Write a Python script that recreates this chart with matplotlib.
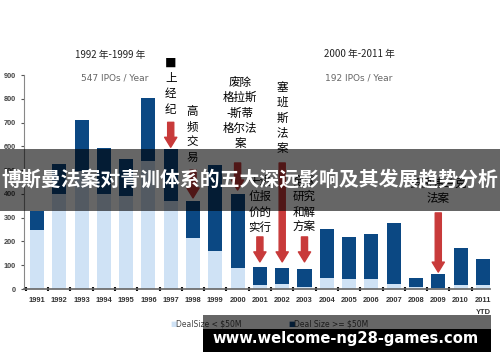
import matplotlib
matplotlib.use("Agg")
import matplotlib.pyplot as plt
from matplotlib.patches import Rectangle

plt.rcParams['font.family'] = ['Noto Sans CJK SC', 'DejaVu Sans']

years = ['1991', '1992', '1993', '1994', '1995', '1996', '1997', '1998', '1999', '2000',
         '2001', '2002', '2003', '2004', '2005', '2006', '2007', '2008', '2009', '2010', '2011']
small_deals = [250, 400, 495, 400, 390, 540, 370, 213, 160, 88,
               16, 21, 10, 48, 41, 41, 21, 7, 3, 16, 16]
large_deals = [80, 125, 217, 193, 155, 263, 217, 158, 361, 312,
               75, 67, 73, 203, 176, 190, 258, 41, 60, 155, 109]
yticks = [0, 100, 200, 300, 400, 500, 600, 700, 800, 900]
period_titles = ['1992 年-1999 年', '2000 年-2011 年']
period_subtitles = ['547 IPOs / Year', '192 IPOs / Year']
legend_labels = ['DealSize < $50M', 'Deal Size >= $50M']
banner_title = '博斯曼法案对青训体系的五大深远影响及其发展趋势分析'
watermark = 'www.welcome-ng28-games.com'

# annotations: (text, x index, text top value, arrow tail value, arrow tip value, arrow x index)
annotations = [
    ('■\n上\n经\n纪', 6.0, 976, 701, 596, 6),
    ('高\n频\n交\n易', 6.95, 774, 500, 383, 7),
    ('废除\n格拉斯\n-斯蒂\n格尔法\n案', 9.1, 896, 530, 416, 9),
    ('塞\n班\n斯\n法\n案', 11.0, 875, 530, 114, 11),
    ('十进\n位报\n价的\n实行', 10.0, 479, 219, 114, 10),
    ('全球\n研究\n和解\n方案', 12.0, 479, 219, 114, 12),
    ('多德弗兰克\n法案', 18.0, 471, 320, 71, 18),
]

light_c = '#cfe2f5'
dark_c = '#0b4883'
arrow_c = '#c83a3a'
tick_font = 'Liberation Sans'

fig = plt.figure(figsize=(5.0, 3.62), dpi=100)
ax = fig.add_axes([0.048, (362 - 289) / 362, (490 - 24) / 500, (289 - 75) / 362])

x = list(range(len(years)))
ax.bar(x, small_deals, width=0.63, color=light_c, zorder=2)
ax.bar(x, large_deals, bottom=small_deals, width=0.63, color=dark_c, zorder=2)

ax.set_xlim(-0.58, 20.32)
ax.set_ylim(0, 900)
ax.set_yticks(yticks)
ax.set_yticklabels([str(v) for v in yticks], fontsize=5.3, color='#444444',
                   fontweight='bold', family=tick_font)
ax.set_xticks(x)
xt = list(years)
xt[-1] = '2011\nYTD'
ax.set_xticklabels(xt, fontsize=5.4, color='#333333', fontweight='bold',
                   family=tick_font, linespacing=2.0, va='top')
ax.tick_params(axis='x', length=0, pad=6)
ax.set_xticks([i + 0.5 for i in x[:-1]] + [-0.5], minor=True)
ax.tick_params(axis='x', which='minor', length=2.5, width=1.5, direction='inout', color='#111111')
ax.tick_params(axis='y', length=2, width=0.8, color='#555555', pad=4)
for s in ['top', 'right']:
    ax.spines[s].set_visible(False)
ax.spines['left'].set_color('#888888')
ax.spines['left'].set_linewidth(0.8)
ax.spines['bottom'].set_color('#666666')
ax.spines['bottom'].set_linewidth(1.2)

# period headers
fig.text(110 / 500, 1 - 55 / 362, period_titles[0], ha='center', va='center', fontsize=7, color='#222222')
fig.text(115 / 500, 1 - 78 / 362, period_subtitles[0], ha='center', va='center', fontsize=6.5,
         color='#666666', family='DejaVu Sans')
fig.text(359 / 500, 1 - 54 / 362, period_titles[1], ha='center', va='center', fontsize=7, color='#222222')
fig.text(359 / 500, 1 - 78 / 362, period_subtitles[1], ha='center', va='center', fontsize=6.5,
         color='#666666', family='DejaVu Sans')

# annotations with arrows
for txt, tx, ty, a0, a1, ax_i in annotations:
    ax.text(tx, ty, txt, ha='center', va='top', fontsize=8.3, color='black',
            linespacing=1.22, clip_on=False, zorder=5, multialignment='center')
    ax.annotate('', xy=(ax_i, a1), xytext=(ax_i, a0),
                arrowprops=dict(arrowstyle='simple,head_length=0.9,head_width=1.1,tail_width=0.55',
                                mutation_scale=8, color=arrow_c, shrinkA=0, shrinkB=0),
                zorder=4, annotation_clip=False)

# legend
fig.text(170 / 500, 1 - 324 / 362, '■', color=light_c, fontsize=5, va='center', ha='left', family='DejaVu Sans')
fig.text(176 / 500, 1 - 324 / 362, legend_labels[0], color='#444444', fontsize=5.5, va='center', ha='left',
         family='DejaVu Sans')
fig.text(288 / 500, 1 - 324 / 362, '■', color=dark_c, fontsize=5, va='center', ha='left', family='DejaVu Sans')
fig.text(294 / 500, 1 - 324 / 362, legend_labels[1], color='#444444', fontsize=5.5, va='center', ha='left',
         family='DejaVu Sans')

# banner overlay
fig.add_artist(Rectangle((0, (362 - 211) / 362), 1, 62 / 362, transform=fig.transFigure,
                         facecolor='black', alpha=0.6, edgecolor='none', zorder=10))
fig.text(0.5, 1 - 180 / 362, banner_title, ha='center', va='center', fontsize=14.3,
         color='white', fontweight='bold', zorder=11)

# watermark box
fig.add_artist(Rectangle((203 / 500, (362 - 329) / 362), 288 / 500, 14 / 362, transform=fig.transFigure,
                         facecolor='black', alpha=0.6, edgecolor='none', zorder=10))
fig.add_artist(Rectangle((203 / 500, (362 - 352) / 362), 288 / 500, 23 / 362, transform=fig.transFigure,
                         facecolor='black', edgecolor='none', zorder=10))
fig.text(346 / 500, 1 - 338 / 362, watermark, ha='center', va='center', fontsize=10.6,
         color='white', fontweight='bold', family='DejaVu Sans', zorder=11)

fig.savefig('out.png', dpi=100)
